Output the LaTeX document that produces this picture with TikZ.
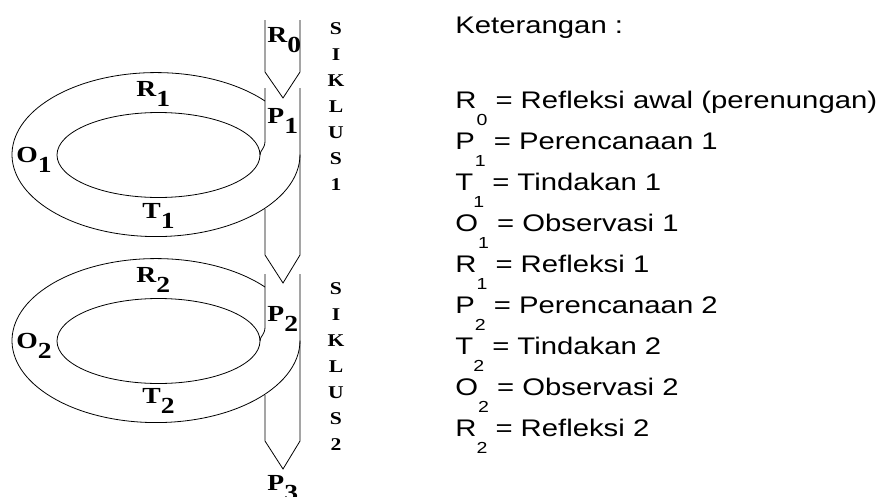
\documentclass[tikz,border=0pt]{standalone}
\usepackage{fontspec}
\newfontfamily\ketfont[FakeStretch=1.22]{Liberation Sans}
\newfontfamily\labfont[FakeStretch=1.2]{Liberation Serif}
\newcommand\lsub[1]{\raisebox{-10pt}{#1}}
\newcommand\ksub[1]{\raisebox{-17pt}{\fontsize{16}{16}\selectfont #1}}
\tikzset{
 lbl/.style={font=\labfont\bfseries\fontsize{23}{23}\selectfont, anchor=base west, inner sep=0},
 siklus/.style={font=\labfont\bfseries\fontsize{18}{18}\selectfont, anchor=base, inner sep=0},
 ket/.style={font=\ketfont\fontsize{24}{24}\selectfont, anchor=base west, inner sep=0}
}

\begin{document}
\begin{tikzpicture}[x=1pt,y=-1pt,line width=0.8pt]
\useasboundingbox (0,0) rectangle (879,496);
\draw (265,20) -- (265,72) -- (283,98) -- (300,72) -- (300,20);
\foreach \c in {155,341} {
 \draw (265,\c-54) arc[start angle=-40.8, end angle=-360, x radius=144, y radius=82];
 \draw (158.5,\c) ellipse [x radius=101.5, y radius=42.5];
 \draw (265,\c-67) -- (265,\c-14) .. controls (265,\c-6) and (260,\c-5) .. (260,\c);
 \draw (265,\c+54) -- (265,\c+100) -- (283,\c+128) -- (300,\c+100) -- (300,\c-67);
}
\node[lbl] (r0) at (267,42) {R\lsub{0}};
\node[lbl] (r1) at (136,96) {R\lsub{1}};
\node[lbl] (p1) at (267,123) {P\lsub{1}};
\node[lbl] (o1) at (16,162) {O\lsub{1}};
\node[lbl] (t1) at (142,218) {T\lsub{1}};
\node[lbl] (r2) at (136,282) {R\lsub{2}};
\node[lbl] (p2) at (267,321) {P\lsub{2}};
\node[lbl] (o2) at (16,348) {O\lsub{2}};
\node[lbl] (t2) at (142,403) {T\lsub{2}};
\node[lbl] (p3) at (267,490) {P\lsub{3}};
\foreach \ch [count=\k] in {S,I,K,L,U,S,1}
 \node[siklus] (sa\k) at (336,34+26*\k-26) {\ch};
\foreach \ch [count=\k] in {S,I,K,L,U,S,2}
 \node[siklus] (sb\k) at (336,294+26*\k-26) {\ch};
\node[ket] (ket) at (455,33) {Keterangan :};
\foreach \h/\n/\t [count=\k] in {R/0/Refleksi awal (perenungan), P/1/Perencanaan 1, T/1/Tindakan 1, O/1/Observasi 1, R/1/Refleksi 1, P/2/Perencanaan 2, T/2/Tindakan 2, O/2/Observasi 2, R/2/Refleksi 2}
 \node[ket] (k\k) at (455,108+41*\k-41) {\h\ksub{\n} = \t};
\end{tikzpicture}
\end{document}
